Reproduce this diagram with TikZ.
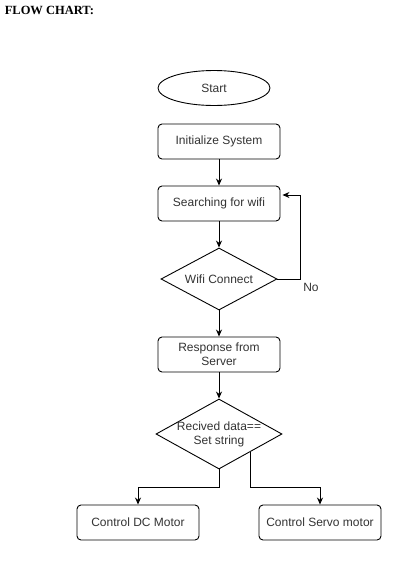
\documentclass[tikz,border=0pt]{standalone}
\usepackage{fontspec}
\setmainfont{Liberation Serif}
\newfontfamily\chartfont{Liberation Sans}
\usetikzlibrary{shapes.geometric,arrows.meta,calc}

\begin{document}
\begin{tikzpicture}[x=1pt,y=-1pt,line width=0.9pt,
    box/.style={draw, rounded corners=4pt, minimum width=122pt, minimum height=35pt,
      text=black!80, font=\chartfont\fontsize{12}{14}\selectfont, align=center},
    decide/.style={draw, diamond, inner sep=-3pt, text=black!80,
      font=\chartfont\fontsize{12}{14}\selectfont, align=center},
    flow/.style={-{Stealth[length=7pt,width=6pt]}}]
  \useasboundingbox (0,0) rectangle (404,573);
  \node[anchor=base west, font=\bfseries\fontsize{12.5}{14}\selectfont] (title) at (1,14) {FLOW CHART:};
  \node[draw, ellipse, minimum width=112pt, minimum height=35pt, text=black!80,
    font=\chartfont\fontsize{12}{14}\selectfont] (start) at (214,88) {Start};
  \node[box] (init) at (219,141.5) {Initialize System};
  \node[box] (search) at (219,203.5) {Searching for wifi};
  \node[decide, shape aspect=1.87, minimum width=116pt, minimum height=62pt] (wifi) at (219,279) {Wifi Connect};
  \node[box] (resp) at (219,354.5) {Response from\\Server};
  \node[decide, shape aspect=1.8, minimum width=126pt, minimum height=70pt] (recv) at (219,434) {Recived data==\\Set string};
  \node[box] (dc) at (138,522.5) {Control DC Motor};
  \node[box] (servo) at (320,522.5) {Control Servo motor};
  \node[text=black!80, font=\chartfont\fontsize{12}{14}\selectfont] (no) at (311,287) {No};

  \coordinate (back) at (300,195);
  \coordinate (split) at ([yshift=-18pt]recv.south);
  \coordinate (fork) at ($(recv.east)!0.5!(recv.south)$);

  \draw[flow] (init) -- (search);
  \draw[flow] (search) -- (wifi);
  \draw[flow] (wifi.east) -| (back) -- ([xshift=2pt]search.east |- back);
  \draw[flow] (wifi) -- (resp);
  \draw[flow] (resp) -- (recv);
  \draw[flow] (recv.south) -- (split) -| (dc.north);
  \draw[flow] (fork) -- (fork |- split) -| (servo.north);
\end{tikzpicture}
\end{document}
